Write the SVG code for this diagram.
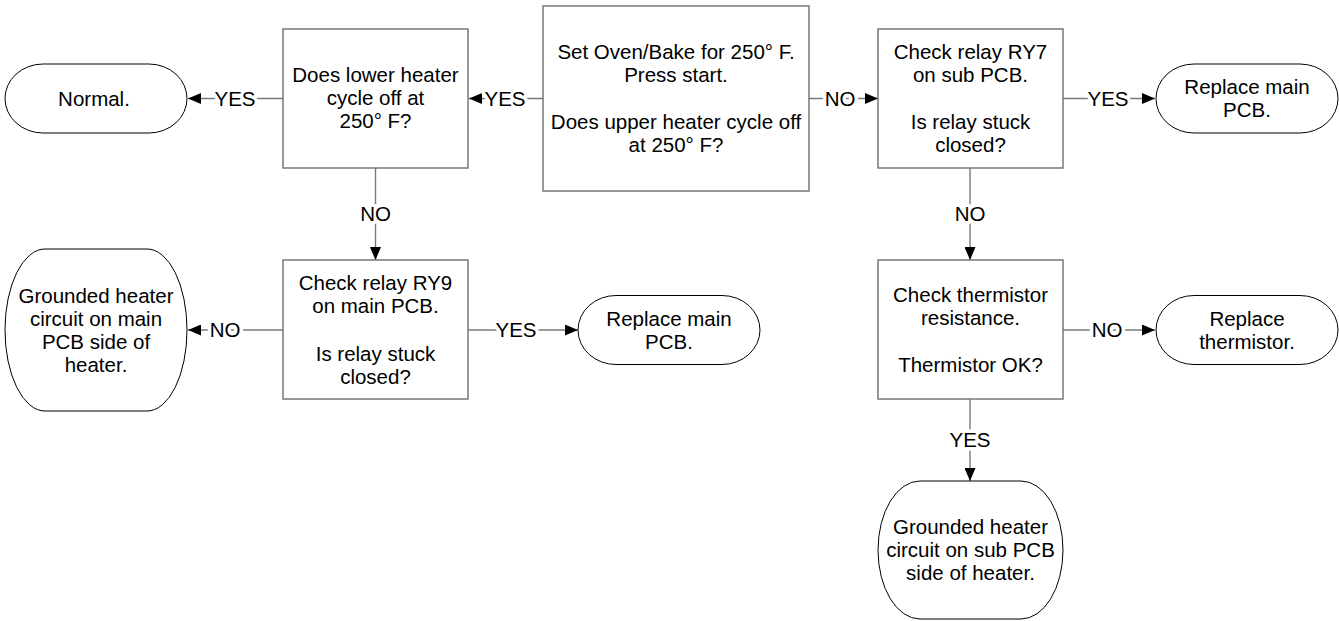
<svg xmlns="http://www.w3.org/2000/svg" width="1339" height="621" viewBox="0 0 1339 621">
<style>
text{font-family:"Liberation Sans",Arial,sans-serif;font-size:20.5px;fill:#000;text-anchor:middle}
.box{fill:#fff;stroke:#6e6e6e;stroke-width:1.4}
.term{fill:#fff;stroke:#000;stroke-width:1}
.conn{fill:none;stroke:#7a7a7a;stroke-width:1.4;marker-end:url(#arr)}
.lbl{stroke:#fff;stroke-width:7;paint-order:stroke;stroke-linejoin:round}
</style>
<defs>
<marker id="arr" viewBox="0 0 13 11" refX="13" refY="5.5" markerWidth="13" markerHeight="11" markerUnits="userSpaceOnUse" orient="auto">
<path d="M0,0 L13,5.5 L0,11 Z" fill="#000"/>
</marker>
</defs>
<g id="connectors">
<path class="conn" d="M543,98.5 H469"/>
<path class="conn" d="M283,98.5 H188"/>
<path class="conn" d="M809,98.5 H878"/>
<path class="conn" d="M1063,98.5 H1155"/>
<path class="conn" d="M375.5,168 V260"/>
<path class="conn" d="M283,330 H188"/>
<path class="conn" d="M468,330 H578"/>
<path class="conn" d="M970,168 V260"/>
<path class="conn" d="M1063,330 H1155"/>
<path class="conn" d="M970,399 V481"/>
<text class="lbl" x="505" y="105.5">YES</text>
<text class="lbl" x="235" y="105.5">YES</text>
<text class="lbl" x="840" y="105.5">NO</text>
<text class="lbl" x="1108" y="105.5">YES</text>
<text class="lbl" x="375.5" y="221">NO</text>
<text class="lbl" x="225" y="337">NO</text>
<text class="lbl" x="516" y="337">YES</text>
<text class="lbl" x="970" y="221">NO</text>
<text class="lbl" x="1107" y="337">NO</text>
<text class="lbl" x="970" y="447">YES</text>
</g>
<g id="start">
<rect class="box" x="543" y="6" width="266" height="185"/>
<text x="676" y="58.5">Set Oven/Bake for 250° F.</text>
<text x="676" y="81.5">Press start.</text>
<text x="676" y="129">Does upper heater cycle off</text>
<text x="676" y="152">at 250° F?</text>
</g>
<g id="lower">
<rect class="box" x="283" y="29" width="185" height="139"/>
<text x="375.5" y="82">Does lower heater</text>
<text x="375.5" y="105">cycle off at</text>
<text x="375.5" y="128">250° F?</text>
</g>
<g id="normal">
<rect class="term" x="5" y="64" width="182" height="69" rx="38" ry="34.5"/>
<text x="94" y="105.5">Normal.</text>
</g>
<g id="ry7">
<rect class="box" x="878" y="29" width="185" height="139"/>
<text x="970.5" y="58.5">Check relay RY7</text>
<text x="970.5" y="81.5">on sub PCB.</text>
<text x="970.5" y="129">Is relay stuck</text>
<text x="970.5" y="152">closed?</text>
</g>
<g id="replace1">
<rect class="term" x="1156" y="64" width="182" height="69" rx="38" ry="34.5"/>
<text x="1247" y="94">Replace main</text>
<text x="1247" y="117">PCB.</text>
</g>
<g id="ry9">
<rect class="box" x="283" y="260" width="185" height="139"/>
<text x="375.5" y="290">Check relay RY9</text>
<text x="375.5" y="313">on main PCB.</text>
<text x="375.5" y="360.5">Is relay stuck</text>
<text x="375.5" y="383.5">closed?</text>
</g>
<g id="ground1">
<rect class="term" x="5" y="249" width="182" height="162" rx="40" ry="81"/>
<text x="96" y="302.5">Grounded heater</text>
<text x="96" y="325.5">circuit on main</text>
<text x="96" y="348.5">PCB side of</text>
<text x="96" y="371.5">heater.</text>
</g>
<g id="replace2">
<rect class="term" x="578" y="295.5" width="182" height="69" rx="38" ry="34.5"/>
<text x="669" y="325.5">Replace main</text>
<text x="669" y="348.5">PCB.</text>
</g>
<g id="thermistor">
<rect class="box" x="878" y="260" width="185" height="139"/>
<text x="970.5" y="301.5">Check thermistor</text>
<text x="970.5" y="324.5">resistance.</text>
<text x="970.5" y="372">Thermistor OK?</text>
</g>
<g id="replace3">
<rect class="term" x="1156" y="295.5" width="182" height="69" rx="38" ry="34.5"/>
<text x="1247" y="325.5">Replace</text>
<text x="1247" y="348.5">thermistor.</text>
</g>
<g id="ground2">
<rect class="term" x="878" y="481" width="185" height="138" rx="42" ry="69"/>
<text x="970.5" y="534">Grounded heater</text>
<text x="970.5" y="557">circuit on sub PCB</text>
<text x="970.5" y="580">side of heater.</text>
</g>
</svg>
